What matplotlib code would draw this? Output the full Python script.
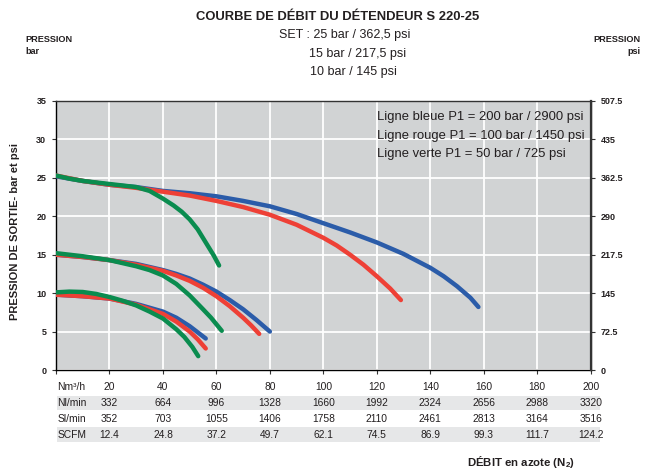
import matplotlib
matplotlib.use("Agg")
import matplotlib.pyplot as plt
from matplotlib.patches import Rectangle
from matplotlib.transforms import blended_transform_factory

# ------------------------------------------------------------------
# Flow curves (x = Nm3/h, y = outlet pressure bar)
# ------------------------------------------------------------------
blue_25_x = [0, 10, 20, 30, 40, 50, 60, 70, 80, 90, 100, 110, 120, 130, 140, 145, 150, 155, 158]
blue_25_y = [25.2, 24.6, 24.1, 23.8, 23.3, 23.0, 22.6, 22.0, 21.3, 20.3, 19.1, 17.9, 16.6, 15.1, 13.3,
             12.2, 10.9, 9.4, 8.2]
red_25_x = [0, 10, 20, 30, 40, 50, 60, 70, 80, 90, 100, 105, 110, 115, 120, 125, 129]
red_25_y = [25.3, 24.6, 24.1, 23.7, 23.2, 22.7, 22.0, 21.2, 20.2, 18.9, 17.2, 16.2, 15.0, 13.7, 12.2,
            10.6, 9.1]
green_25_x = [0, 5, 10, 15, 20, 25, 30, 35, 40, 44, 47, 50, 53, 56, 59, 61]
green_25_y = [25.3, 24.9, 24.6, 24.4, 24.2, 24.0, 23.8, 23.3, 22.3, 21.4, 20.6, 19.6, 18.3, 16.6, 14.9, 13.6]

blue_15_x = [0, 10, 20, 30, 40, 45, 50, 55, 60, 65, 70, 75, 80]
blue_15_y = [15.0, 14.7, 14.3, 13.8, 13.0, 12.5, 11.9, 11.1, 10.2, 9.1, 7.9, 6.5, 5.0]
red_15_x = [0, 10, 20, 30, 40, 45, 50, 55, 60, 65, 70, 73, 76]
red_15_y = [15.0, 14.7, 14.3, 13.7, 12.9, 12.3, 11.6, 10.7, 9.6, 8.3, 6.8, 5.8, 4.7]
green_15_x = [0, 10, 20, 30, 35, 40, 45, 50, 55, 58, 62]
green_15_y = [15.2, 14.8, 14.3, 13.5, 13.0, 12.3, 11.2, 9.7, 7.9, 6.8, 5.1]

blue_10_x = [0, 10, 20, 30, 40, 45, 50, 53, 56]
blue_10_y = [9.8, 9.6, 9.3, 8.6, 7.6, 6.8, 5.7, 4.9, 4.1]
red_10_x = [0, 10, 20, 30, 40, 45, 50, 53, 56]
red_10_y = [9.8, 9.6, 9.3, 8.5, 7.3, 6.3, 5.0, 4.0, 2.8]
green_10_x = [0, 5, 10, 15, 20, 25, 30, 35, 40, 45, 48, 51, 53.2]
green_10_y = [10.1, 10.2, 10.15, 9.9, 9.5, 9.0, 8.4, 7.6, 6.7, 5.3, 4.3, 3.0, 1.8]

bar_ticks = [0, 5, 10, 15, 20, 25, 30, 35]
psi_ticks = [0, 72.5, 145, 217.5, 290, 362.5, 435, 507.5]
psi_labels = ["0", "72.5", "145", "217.5", "290", "362.5", "435", "507.5"]

flow_cols = [20, 40, 60, 80, 100, 120, 140, 160, 180, 200]
row_names = ["Nm³/h", "Nl/min", "Sl/min", "SCFM"]
nl_min = ["332", "664", "996", "1328", "1660", "1992", "2324", "2656", "2988", "3320"]
sl_min = ["352", "703", "1055", "1406", "1758", "2110", "2461", "2813", "3164", "3516"]
scfm = ["12.4", "24.8", "37.2", "49.7", "62.1", "74.5", "86.9", "99.3", "111.7", "124.2"]

legend_lines = ["Ligne bleue P1 = 200 bar / 2900 psi",
                "Ligne rouge P1 = 100 bar / 1450 psi",
                "Ligne verte P1 = 50 bar / 725 psi"]

BLUE, RED, GREEN = "#2b5ca9", "#ee4036", "#0a8c4f"
INK = "#231f20"
FONT = "Liberation Sans"
W, H = 650, 472


def px(x, y):
    # pixel position -> figure fraction
    return x / W, 1 - y / H


fig = plt.figure(figsize=(6.5, 4.72), dpi=100)
l, b = px(56, 370)
r, t = px(590.7, 101)
ax = fig.add_axes([l, b, r - l, t - b])
ax.set_facecolor("#d1d3d4")

lw = 3.2
for xs, ys, c in [(blue_25_x, blue_25_y, BLUE), (red_25_x, red_25_y, RED), (green_25_x, green_25_y, GREEN),
                  (blue_15_x, blue_15_y, BLUE), (red_15_x, red_15_y, RED), (green_15_x, green_15_y, GREEN),
                  (blue_10_x, blue_10_y, BLUE), (red_10_x, red_10_y, RED), (green_10_x, green_10_y, GREEN)]:
    ax.plot(xs, ys, color=c, lw=lw, solid_capstyle="round", solid_joinstyle="round", zorder=3)

ax.set_xlim(0, 200)
ax.set_ylim(0, 35)
ax.set_xticks([0] + flow_cols)
ax.set_xticklabels([])
ax.set_yticks(bar_ticks)
ax.set_yticklabels([str(v) for v in bar_ticks], fontweight="bold", fontsize=6.5, family=FONT)
ax.grid(True, color="white", lw=1.3)
ax.set_axisbelow(True)
ax.tick_params(length=3, width=0.8, color="#333333", pad=4, labelcolor=INK)
for s in ax.spines.values():
    s.set_color("#333333")
    s.set_linewidth(1.0)
ax.spines["left"].set_color("black")
ax.spines["bottom"].set_color("black")

ax2 = ax.twinx()
ax2.set_ylim(0, 507.5)
ax2.set_yticks(psi_ticks)
ax2.set_yticklabels(psi_labels, fontweight="bold", fontsize=6.5, family=FONT)
ax2.tick_params(length=3, width=0.8, color="#333333", pad=4, labelcolor=INK)
for s in ax2.spines.values():
    s.set_visible(False)
ax2.spines["right"].set_visible(True)
ax2.spines["right"].set_color("#333333")
ax2.spines["right"].set_linewidth(1.6)

# legend text inside the plot
for i, txt in enumerate(legend_lines):
    fig.text(*px(376.7, 117 + i * 18.5), txt, family=FONT, fontsize=9.4,
             va="center", ha="left", color=INK)

# titles
fig.text(*px(337.5, 16.5), "COURBE DE DÉBIT DU DÉTENDEUR S 220-25", family=FONT,
         fontweight="bold", fontsize=9.4, ha="center", va="center", color=INK)
fig.text(*px(279, 35), "SET : 25 bar / 362,5 psi", family=FONT, fontsize=9,
         ha="left", va="center", color=INK)
fig.text(*px(309, 54), "15 bar / 217,5 psi", family=FONT, fontsize=9,
         ha="left", va="center", color=INK)
fig.text(*px(310, 72.5), "10 bar / 145 psi", family=FONT, fontsize=9,
         ha="left", va="center", color=INK)

fig.text(*px(25, 39), "PRESSION", family=FONT, fontweight="bold", fontsize=6.6,
         ha="left", va="center", color=INK)
fig.text(*px(25, 52), "bar", family=FONT, fontweight="bold", fontsize=6.6,
         ha="left", va="center", color=INK)
fig.text(*px(641, 39), "PRESSION", family=FONT, fontweight="bold", fontsize=6.6,
         ha="right", va="center", color=INK)
fig.text(*px(641, 52), "psi", family=FONT, fontweight="bold", fontsize=6.6,
         ha="right", va="center", color=INK)

fig.text(*px(15, 231), "PRESSION DE SORTIE- bar et psi", family=FONT, fontweight="bold",
         fontsize=8, rotation=90, ha="center", va="center", color=INK)

# ------------------------------------------------------------------
# Conversion table under the x axis
# ------------------------------------------------------------------
row_y = [387, 403, 419, 434.5]
x0, _ = px(56.7, 0)
x1, _ = px(600, 0)
for yy in (row_y[1], row_y[3]):
    _, y0 = px(0, yy + 7)
    fig.patches.append(Rectangle((x0, y0), x1 - x0, 14.5 / H, transform=fig.transFigure,
                                 facecolor="#e6e7e8", edgecolor="none", zorder=0))

trans = blended_transform_factory(ax.transData, fig.transFigure)
rows = [[str(v) for v in flow_cols], nl_min, sl_min, scfm]
for name, vals, yy in zip(row_names, rows, row_y):
    fig.text(*px(57.5, yy), name, family=FONT, fontsize=7.4, ha="left", va="center",
             color=INK, zorder=5)
    for xv, s in zip(flow_cols, vals):
        fig.text(xv, 1 - yy / H, s, transform=trans, family=FONT, fontsize=7.4,
                 ha="center", va="center", color=INK, zorder=5)

fig.text(*px(521, 461.5), r"DÉBIT en azote (N$_\mathregular{2}$)", family=FONT,
         fontweight="bold", fontsize=8.2, ha="center", va="center", color=INK)

fig.savefig("out.png", dpi=100)
